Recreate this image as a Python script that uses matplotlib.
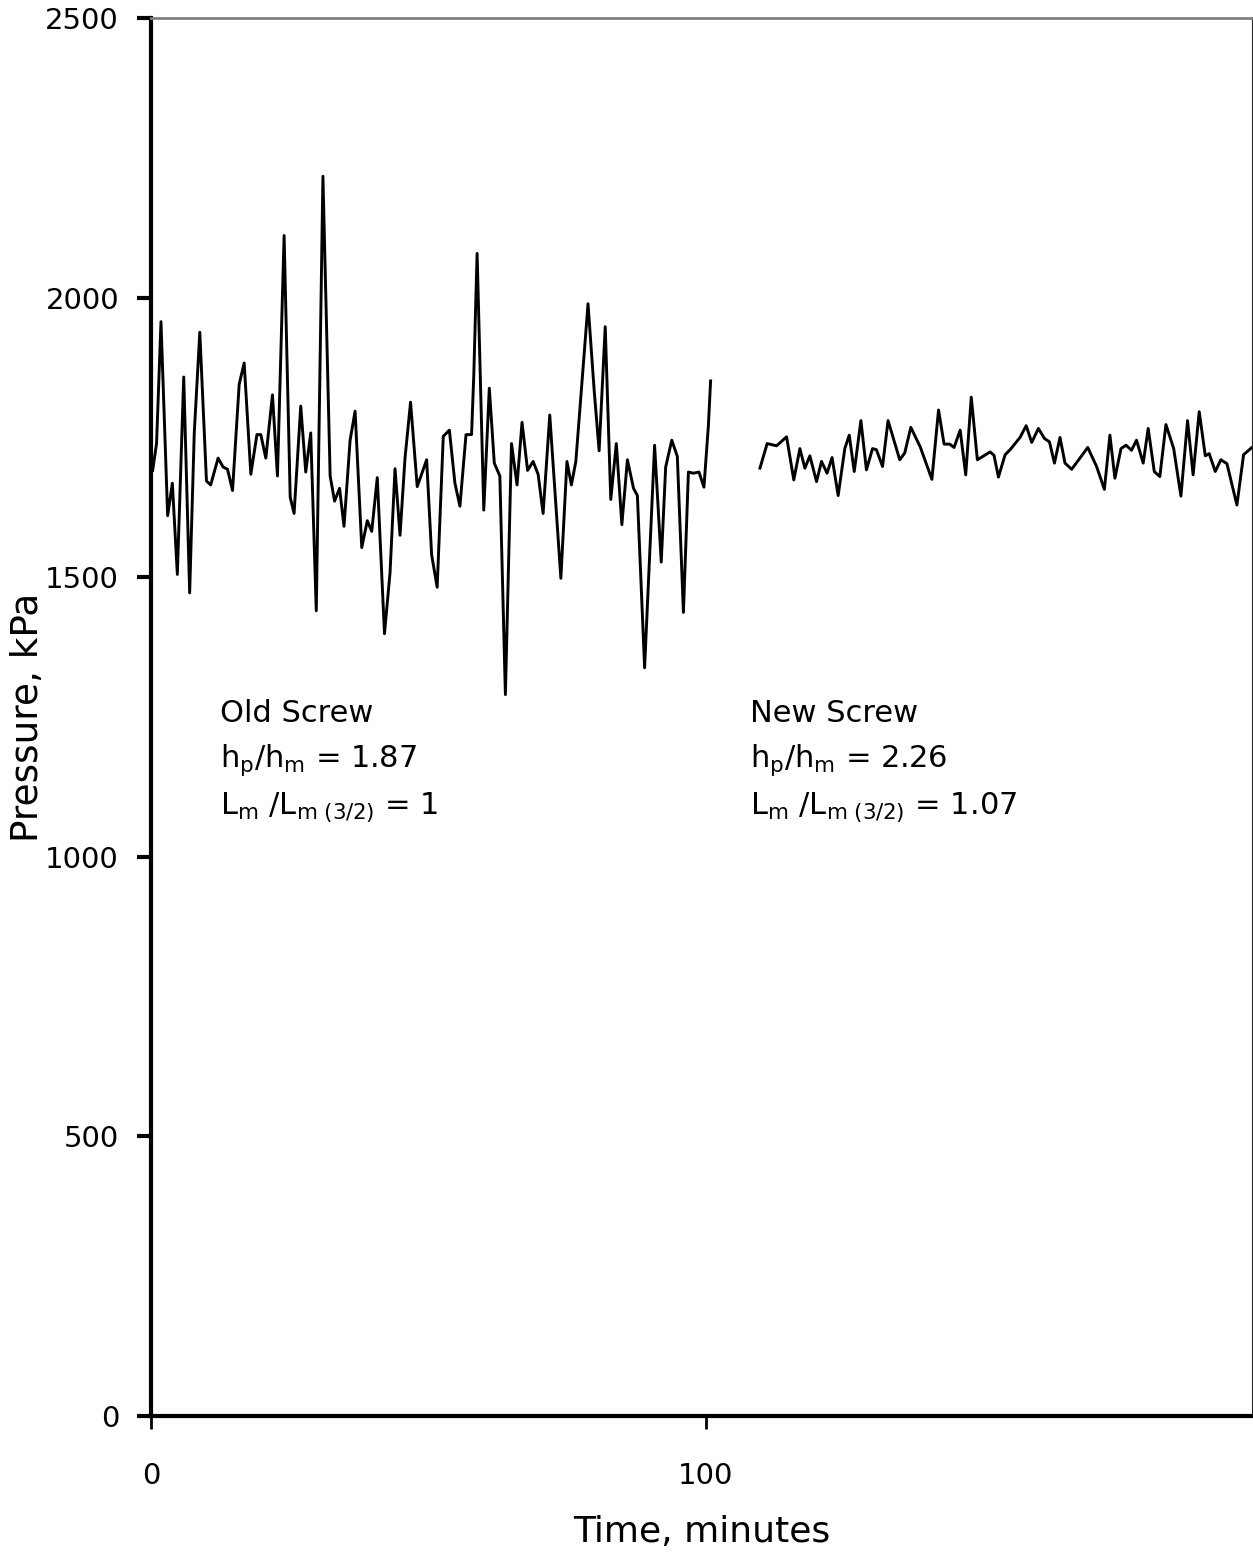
import matplotlib
matplotlib.use("Agg")
import matplotlib.pyplot as plt

# Old screw: time (min), pressure (kPa)
old_t = [0.3, 1.0, 1.8, 3.0, 3.85, 4.75, 5.9, 6.97, 7.8, 8.8, 10.0, 10.76, 12.1, 13.0, 13.8,
         14.7, 15.9, 16.8, 18.0, 19.1, 19.8, 20.7, 21.9, 22.8, 24.0, 25.1, 25.8, 27.0, 27.9,
         28.8, 29.8, 31.0, 32.3, 33.1, 34.0, 34.8, 35.9, 36.8, 38.0, 39.0, 39.8, 40.8, 42.1,
         43.1, 44.0, 44.9, 45.8, 46.8, 48.0, 49.7, 50.6, 51.6, 52.7, 53.8, 54.8, 55.7, 56.8,
         57.8, 58.2, 58.8, 60.0, 61.0, 61.9, 62.9, 63.9, 65.0, 66.0, 66.9, 67.9, 68.9, 69.8,
         70.7, 71.9, 73.9, 75.0, 75.8, 76.6, 77.5, 78.8, 79.9, 80.8, 81.9, 82.9, 83.9, 84.9,
         85.9, 87.0, 87.7, 89.0, 90.8, 92.0, 92.8, 93.9, 94.9, 96.0, 96.9, 97.8, 98.8, 99.7,
         100.5, 100.9]
old_p = [1691, 1739, 1957, 1610, 1668, 1505, 1858, 1472, 1758, 1938, 1672, 1665, 1713, 1697, 1693,
         1655, 1845, 1883, 1684, 1755, 1755, 1713, 1826, 1681, 2111, 1643, 1614, 1806, 1688,
         1758, 1440, 2217, 1681, 1636, 1659, 1591, 1745, 1797, 1553, 1601, 1582, 1678, 1399,
         1508, 1694, 1575, 1713, 1813, 1662, 1710, 1540, 1482, 1752, 1763, 1668, 1627, 1755,
         1755, 1861, 2079, 1620, 1838, 1704, 1681, 1290, 1739, 1665, 1777, 1691, 1707, 1684,
         1614, 1790, 1498, 1707, 1665, 1707, 1822, 1989, 1835, 1726, 1948, 1639, 1739, 1594,
         1710, 1659, 1646, 1338, 1736, 1527, 1697, 1745, 1716, 1437, 1688, 1686, 1688, 1661,
         1771, 1851]

# New screw
new_t = [109.8, 111.1, 112.8, 114.6, 115.9, 117.0, 117.9, 118.8, 120.0, 120.9, 121.9, 122.8,
         123.9, 125.1, 125.9, 126.8, 128.0, 129.0, 130.1, 130.8, 131.9, 132.9, 135.0, 135.9,
         137.0, 138.7, 140.8, 142.0, 143.0, 144.0, 144.8, 145.9, 146.9, 147.9, 149.0, 151.3,
         152.0, 152.8, 154.0, 154.9, 156.7, 157.8, 158.8, 160.0, 161.1, 162.0, 162.9, 163.9,
         164.8, 166.0, 167.5, 168.9, 170.5, 171.9, 172.9, 173.8, 174.9, 175.8, 176.8, 177.7,
         178.9, 179.8, 180.9, 181.9, 183.0, 184.4, 185.7, 186.9, 187.9, 189.0, 190.1, 190.8,
         191.9, 192.9, 194.0, 195.8, 197.0, 198.5, 199.0]
new_p = [1695, 1739, 1735, 1751, 1674, 1730, 1695, 1717, 1671, 1707, 1686, 1714,
         1646, 1730, 1754, 1689, 1780, 1692, 1730, 1728, 1698, 1780, 1710, 1722,
         1768, 1733, 1675, 1799, 1738, 1738, 1732, 1763, 1683, 1822, 1710, 1724,
         1718, 1679, 1719, 1728, 1750, 1771, 1741, 1766, 1748, 1742, 1704, 1750,
         1704, 1693, 1713, 1732, 1698, 1657, 1754, 1677, 1730, 1736, 1727, 1745,
         1704, 1766, 1689, 1680, 1773, 1730, 1645, 1780, 1683, 1796, 1717, 1721,
         1689, 1710, 1703, 1629, 1719, 1732, 1735]

y_ticks = [0, 500, 1000, 1500, 2000, 2500]
x_ticks = [0, 100]

W, H = 1253, 1555
fig = plt.figure(figsize=(W / 100, H / 100), dpi=100)
ax = fig.add_axes([151 / W, 1 - 1416 / H, (1253 - 151) / W, (1416 - 18) / H])

ax.plot(old_t, old_p, color="black", lw=2.1, solid_joinstyle="round")
ax.plot(new_t, new_p, color="black", lw=2.1, solid_joinstyle="round")

ax.set_xlim(0, 198.7)
ax.set_ylim(0, 2500)
ax.set_xticks(x_ticks)
ax.set_yticks(y_ticks)
ax.set_xticklabels([str(v) for v in x_ticks])
ax.set_yticklabels([str(v) for v in y_ticks])

for s in ["left", "bottom"]:
    ax.spines[s].set_linewidth(3.0)
    ax.spines[s].set_color("black")
ax.spines["top"].set_linewidth(2.0)
ax.spines["top"].set_color("#808080")
ax.spines["right"].set_linewidth(1.5)
ax.spines["right"].set_color("#222222")

ax.tick_params(axis="y", direction="out", length=10, width=3, pad=13,
               labelsize=21, colors="black")
ax.tick_params(axis="x", direction="out", length=9, width=2, pad=24,
               labelsize=21, colors="black")

fig.text(702 / W, 1 - 1532 / H, "Time, minutes", fontsize=26, ha="center", va="center")
fig.text(28 / W, 1 - 717 / H, "Pressure, kPa", fontsize=27, ha="center", va="center",
         rotation=90)

fs = 22
ax.text(12.4, 1257, "Old Screw", fontsize=fs, va="center", ha="left")
ax.text(12.4, 1173, r"h$_\mathregular{p}$/h$_\mathregular{m}$ = 1.87", fontsize=fs, va="center", ha="left")
ax.text(12.4, 1087, r"L$_\mathregular{m}$ /L$_\mathregular{m\ (3/2)}$ = 1", fontsize=fs, va="center", ha="left")
ax.text(108.0, 1257, "New Screw", fontsize=fs, va="center", ha="left")
ax.text(108.0, 1173, r"h$_\mathregular{p}$/h$_\mathregular{m}$ = 2.26", fontsize=fs, va="center", ha="left")
ax.text(108.0, 1087, r"L$_\mathregular{m}$ /L$_\mathregular{m\ (3/2)}$ = 1.07", fontsize=fs, va="center", ha="left")

fig.savefig("out.png", dpi=100)
